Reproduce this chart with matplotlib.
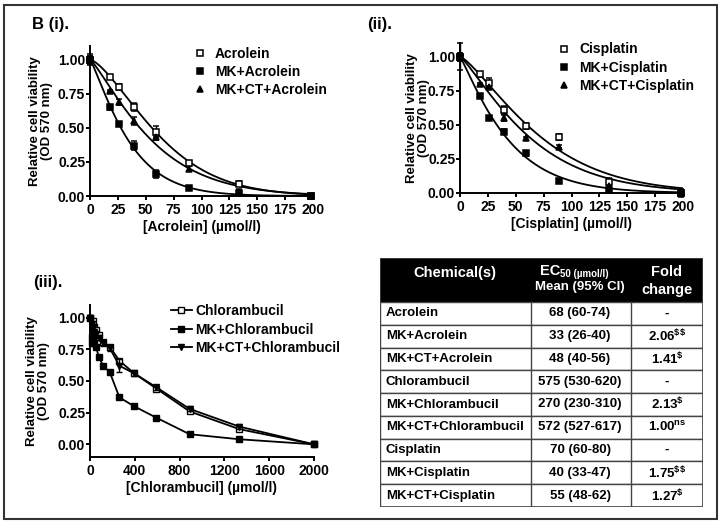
import numpy as np
import matplotlib.pyplot as plt
from matplotlib.lines import Line2D
from matplotlib.patches import Rectangle

plt.rcParams['font.family'] = ['Liberation Sans', 'DejaVu Sans']
plt.rcParams['font.weight'] = 'bold'
plt.rcParams['axes.labelweight'] = 'bold'
plt.rcParams['mathtext.default'] = 'regular'

# (i) acrolein, umol/l
x_acr = [0, 17.6, 26.3, 39.5, 59.3, 88.9, 133.3, 198]
acr = [1.00, 0.87, 0.80, 0.65, 0.47, 0.24, 0.09, 0.00]
acr_err = [0.04, 0.01, 0.02, 0.03, 0.04, 0.01, 0.02, 0.01]
mk_acr = [1.00, 0.65, 0.53, 0.37, 0.16, 0.06, 0.02, 0.00]
mk_acr_err = [0.03, 0.02, 0.01, 0.03, 0.03, 0.01, 0.02, 0.00]
mkct_acr = [1.00, 0.77, 0.69, 0.55, 0.43, 0.20, 0.03, 0.00]
mkct_acr_err = [0.03, 0.01, 0.02, 0.03, 0.02, 0.02, 0.02, 0.00]

# (ii) cisplatin
x_cis = [0, 17.6, 26.3, 39.5, 59.3, 88.9, 133.3, 198]
cis = [1.00, 0.87, 0.81, 0.61, 0.49, 0.41, 0.08, 0.00]
cis_err = [0.10, 0.02, 0.03, 0.03, 0.02, 0.02, 0.03, 0.03]
mk_cis = [1.00, 0.71, 0.55, 0.45, 0.29, 0.09, 0.02, 0.00]
mk_cis_err = [0.03, 0.01, 0.01, 0.02, 0.02, 0.01, 0.01, 0.00]
mkct_cis = [1.00, 0.80, 0.78, 0.55, 0.40, 0.34, 0.05, 0.00]
mkct_cis_err = [0.03, 0.01, 0.01, 0.02, 0.01, 0.01, 0.01, 0.00]

# (iii) chlorambucil
x_chl = [0, 15.6, 23.4, 35.1, 52.7, 79, 117, 176, 263, 395, 593, 889, 1333, 2000]
chl = [1.00, 0.85, 0.97, 0.93, 0.90, 0.86, 0.81, 0.77, 0.66, 0.56, 0.44, 0.26, 0.12, 0.00]
mk_chl = [1.00, 0.80, 0.84, 0.80, 0.77, 0.69, 0.62, 0.57, 0.37, 0.30, 0.21, 0.08, 0.04, 0.00]
mkct_chl = [1.00, 0.95, 0.92, 0.89, 0.87, 0.84, 0.80, 0.76, 0.62, 0.56, 0.45, 0.28, 0.14, 0.00]
mkct_chl_err = [0.02, 0.02, 0.02, 0.02, 0.02, 0.02, 0.02, 0.02, 0.05, 0.02, 0.02, 0.02, 0.02, 0.00]

# table
chemicals = ['Acrolein', 'MK+Acrolein', 'MK+CT+Acrolein', 'Chlorambucil', 'MK+Chlorambucil',
             'MK+CT+Chlorambucil', 'Cisplatin', 'MK+Cisplatin', 'MK+CT+Cisplatin']
ec50 = ['68 (60-74)', '33 (26-40)', '48 (40-56)', '575 (530-620)', '270 (230-310)',
        '572 (527-617)', '70 (60-80)', '40 (33-47)', '55 (48-62)']
fold = ['-', '2.06', '1.41', '-', '2.13', '1.00', '-', '1.75', '1.27']
fold_sig = ['', '$$', '$', '', '$', 'ns', '', '$$', '$']

W, H = 722, 524
fig = plt.figure(figsize=(W / 100, H / 100), dpi=100)
fig.patches.append(Rectangle((4 / W, 5 / H), 713 / W, 514 / H, transform=fig.transFigure,
                             fill=False, ec='#333333', lw=1.5))

FS = 10


def fit_curve(x, y, xmax):
    # least squares fit of y = exp(-(x/a)^b) by grid search
    x = np.asarray(x, float)
    y = np.asarray(y, float)
    a = np.linspace(5, 400, 400)[:, None, None]
    b = np.linspace(0.5, 4, 351)[None, :, None]
    pred = np.exp(-(x / a) ** b)
    sse = ((pred - y) ** 2).sum(-1)
    i, j = np.unravel_index(sse.argmin(), sse.shape)
    xs = np.linspace(0, xmax, 400)
    return xs, np.exp(-(xs / a[i, 0, 0]) ** b[0, j, 0])


def style_axes(ax, lab_x):
    for s in ['top', 'right']:
        ax.spines[s].set_visible(False)
    for s in ['left', 'bottom']:
        ax.spines[s].set_linewidth(1.4)
    ax.tick_params(width=1.4, length=3, labelsize=FS)
    ax.tick_params(axis='y', pad=0.5)
    ax.tick_params(axis='x', pad=2)
    ax.set_yticks([0, 0.25, 0.5, 0.75, 1.0])
    ax.set_yticklabels(['0.00', '0.25', '0.50', '0.75', '1.00'])
    ax.set_ylabel('Relative cell viability\n(OD 570 nm)', fontsize=9.5, linespacing=1.0)
    ax.yaxis.set_label_coords(lab_x, 0.5)


def dose_panel(ax, x, series, xlabel, lab_x):
    handles = []
    for y, err, mk, fc in series:
        ax.errorbar(x, y, yerr=err, fmt=mk, mfc=fc, mec='k', ms=5, mew=1.1, ecolor='k',
                    elinewidth=1, capsize=2.5, clip_on=False, zorder=3)
        xs, ys = fit_curve(x, y, 200)
        ax.plot(xs, ys, color='k', lw=1.3)
        handles.append(Line2D([], [], marker=mk, ls='none', mfc=fc, mec='k', ms=5, mew=1.1))
    ax.set_xlim(0, 200)
    ax.set_ylim(0, 1.1)
    ax.set_xticks(range(0, 201, 25))
    ax.set_xlabel(xlabel, fontsize=FS, labelpad=2)
    style_axes(ax, lab_x)
    return handles


# panel (i)
ax1 = fig.add_axes([90 / W, 1 - 196 / H, 223 / W, 150 / H])
h1 = dose_panel(ax1, x_acr,
                [(acr, acr_err, 's', 'white'), (mk_acr, mk_acr_err, 's', 'black'),
                 (mkct_acr, mkct_acr_err, '^', 'black')],
                '[Acrolein] (µmol/l)', -0.166)
ax1.legend(h1, ['Acrolein', 'MK+Acrolein', 'MK+CT+Acrolein'], loc='upper left',
           bbox_to_anchor=(0.43, 1.04), frameon=False, fontsize=FS, handlelength=1,
           handletextpad=0.6, labelspacing=0.3, borderpad=0)

# panel (ii)
ax2 = fig.add_axes([460 / W, 1 - 193 / H, 223 / W, 150 / H])
h2 = dose_panel(ax2, x_cis,
                [(cis, cis_err, 's', 'white'), (mk_cis, mk_cis_err, 's', 'black'),
                 (mkct_cis, mkct_cis_err, '^', 'black')],
                '[Cisplatin] (µmol/l)', -0.135)
ax2.legend(h2, ['Cisplatin', 'MK+Cisplatin', 'MK+CT+Cisplatin'], loc='upper left',
           bbox_to_anchor=(0.405, 1.05), frameon=False, fontsize=FS, handlelength=1,
           handletextpad=0.6, labelspacing=0.3, borderpad=0)

# panel (iii)
ax3 = fig.add_axes([90 / W, 1 - 457 / H, 224 / W, 152 / H])
ax3.plot(x_chl, chl, '-s', color='k', mfc='white', mec='k', ms=5, lw=1.3, clip_on=False,
         zorder=3)
ax3.plot(x_chl, mk_chl, '-s', color='k', mfc='black', ms=5, lw=1.3, clip_on=False, zorder=3)
ax3.errorbar(x_chl, mkct_chl, yerr=mkct_chl_err, fmt='-v', color='k', mfc='black', ms=4,
             lw=1.3, elinewidth=1, capsize=2.5, clip_on=False, zorder=3)
ax3.set_xlim(0, 2000)
ax3.set_ylim(-0.1, 1.1)
ax3.set_xticks(range(0, 2001, 400))
ax3.set_xlabel('[Chlorambucil] (µmol/l)', fontsize=FS, labelpad=2)
style_axes(ax3, -0.179)
h3 = [Line2D([], [], color='k', lw=1.3, marker='s', mfc='white', mec='k', ms=5),
      Line2D([], [], color='k', lw=1.3, marker='s', mfc='black', mec='k', ms=5),
      Line2D([], [], color='k', lw=1.3, marker='v', mfc='black', mec='k', ms=4)]
ax3.legend(h3, ['Chlorambucil', 'MK+Chlorambucil', 'MK+CT+Chlorambucil'], loc='upper left',
           bbox_to_anchor=(0.33, 1.05), frameon=False, fontsize=FS, handlelength=1.5,
           handletextpad=0.25, labelspacing=0.3, borderpad=0)

# panel labels
fig.text(32 / W, 1 - 25 / H, 'B (i).', fontsize=12, va='center')
fig.text(367 / W, 1 - 24 / H, '(ii).', fontsize=12, va='center')
fig.text(33 / W, 1 - 282 / H, '(iii).', fontsize=12, va='center')

# table
tw, th = 323, 249
axt = fig.add_axes([380 / W, 1 - 507 / H, tw / W, th / H])
axt.set_xlim(0, tw)
axt.set_ylim(th, 0)
axt.axis('off')
cols = [0, 151, 251, 323]
head_h = 44
row_h = (th - head_h) / len(chemicals)
grid = '#444444'
axt.add_patch(Rectangle((0, 0), tw, head_h, fc='black', ec='black', lw=1))
axt.text(75, 15, 'Chemical(s)', color='white', fontsize=10.5, ha='center', va='center')
ec = axt.text(160, 13, 'EC', color='white', fontsize=10.5, ha='left', va='center')
axt.annotate('50 (µmol/l)', xy=(1, -0.08), xycoords=ec, color='white', fontsize=7,
             va='bottom', ha='left')
axt.text(200, 29, 'Mean (95% CI)', color='white', fontsize=9.5, ha='center', va='center')
axt.text(287, 14, 'Fold', color='white', fontsize=10.5, ha='center', va='center')
axt.text(287, 32, 'change', color='white', fontsize=10.5, ha='center', va='center')
for i, (c, e, f, s) in enumerate(zip(chemicals, ec50, fold, fold_sig)):
    y0 = head_h + i * row_h
    yc = y0 + row_h / 2
    axt.add_patch(Rectangle((0, y0), tw, row_h, fc='white', ec=grid, lw=1))
    axt.text(6, yc, c, fontsize=9.5, ha='left', va='center')
    axt.text(200, yc, e, fontsize=9.5, ha='center', va='center')
    if s:
        sig = s.replace('$', r'\$')
        axt.text(287, yc, f + '$^{' + sig + '}$', fontsize=9.5, ha='center', va='center')
    else:
        axt.text(287, yc, f, fontsize=9.5, ha='center', va='center')
for xc in cols[1:-1]:
    axt.plot([xc, xc], [head_h, th], color=grid, lw=1)
axt.add_patch(Rectangle((0, 0), tw, th, fill=False, ec=grid, lw=1.2))

fig.savefig('out.png', dpi=100)
